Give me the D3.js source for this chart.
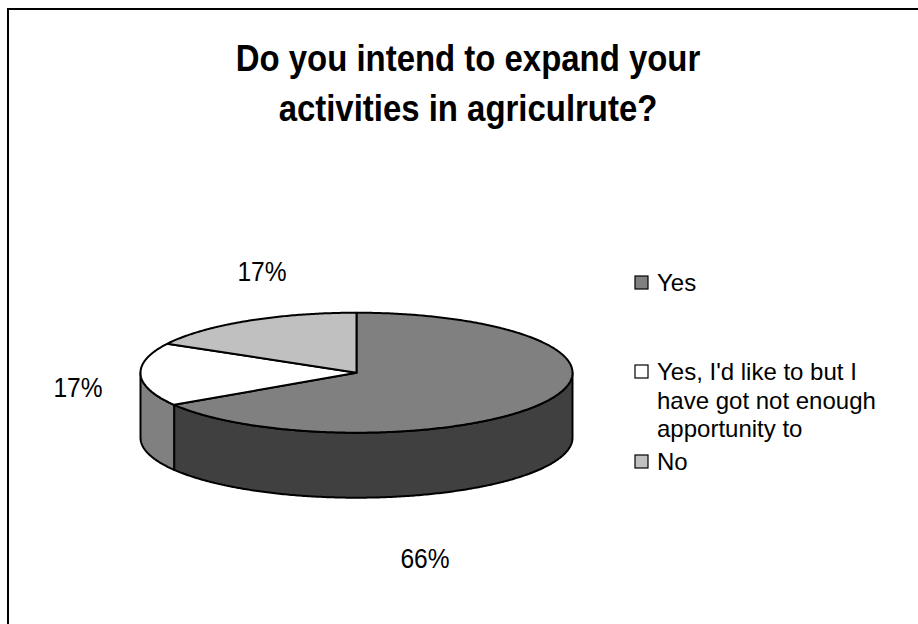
<!DOCTYPE html>
<html>
<head>
<meta charset="utf-8">
<script src="https://cdn.jsdelivr.net/npm/d3@7"></script>
<style>
  html, body { margin: 0; padding: 0; background: #fff; }
  svg { display: block; }
  text { font-family: Arial, "Liberation Sans", sans-serif; fill: #000; }
</style>
</head>
<body>
<svg id="chart" width="918" height="624"></svg>
<script>
// Survey answers
const categories = ["Yes", "Yes, I'd like to but I have got not enough apportunity to", "No"];
const legendLines = [["Yes"], ["Yes, I'd like to but I", "have got not enough", "apportunity to"], ["No"]];
const values = [66, 17, 17];
const labels = ["66%", "17%", "17%"];
const titleLines = ["Do you intend to expand your", "activities in agriculrute?"];

const topColors = ["#808080", "#ffffff", "#c0c0c0"];
const sideColors = ["#404040", "#808080", "#606060"];

const svg = d3.select("#chart");
const W = 918, H = 624;

// chart frame
svg.append("rect").attr("x", 8).attr("y", 9).attr("width", W + 20).attr("height", H + 20)
  .attr("fill", "#fff").attr("stroke", "#000").attr("stroke-width", 2);

function label(x, y, str, size, weight, sx) {
  const g = svg.append("g").attr("transform", `translate(${x},${y}) scale(${sx},1)`);
  g.append("text").attr("text-anchor", "middle").attr("font-size", size)
    .attr("font-weight", weight || "normal").text(str);
  return g;
}

// title
titleLines.forEach((t, i) => label(468, 71 + i * 50, t, 37, "bold", 0.89));

// 3D pie geometry
const cx = 356.5, cy = 372.7, rx = 216, ry = 60, depth = 65;
const pie = d3.pie().sort(null).startAngle(0).endAngle(2 * Math.PI);
const arcs = pie(values);

const pt = (a, dy) => [cx + rx * Math.sin(a), cy - ry * Math.cos(a) + (dy || 0)];
function sample(a0, a1, dy) {
  const n = Math.max(2, Math.ceil(Math.abs(a1 - a0) / 0.01));
  return d3.range(n + 1).map(i => pt(a0 + (a1 - a0) * i / n, dy));
}
const line = d3.line();

// outer walls of the front half
const front0 = Math.PI / 2, front1 = 3 * Math.PI / 2;
arcs.forEach((d, i) => {
  const a0 = Math.max(d.startAngle, front0), a1 = Math.min(d.endAngle, front1);
  if (a1 <= a0) return;
  const pts = sample(a0, a1, 0).concat(sample(a1, a0, depth));
  svg.append("path").attr("d", line(pts) + "Z")
    .attr("fill", sideColors[i]).attr("stroke", "#000").attr("stroke-width", 2)
    .attr("stroke-linejoin", "round");
});

// top faces
arcs.forEach((d, i) => {
  const pts = [[cx, cy]].concat(sample(d.startAngle, d.endAngle, 0));
  svg.append("path").attr("d", line(pts) + "Z")
    .attr("fill", topColors[i]).attr("stroke", "#000").attr("stroke-width", 2)
    .attr("stroke-linejoin", "round");
});

// data labels
const labelPos = [[425, 568], [78, 397], [262, 281]];
arcs.forEach((d, i) => label(labelPos[i][0], labelPos[i][1], labels[i], 27, "normal", 0.91));

// legend
const legX = 635, legRows = [282, 371, 461];
categories.forEach((c, i) => {
  const y = legRows[i];
  svg.append("rect").attr("x", legX).attr("y", y - 6).attr("width", 13).attr("height", 13)
    .attr("fill", topColors[i]).attr("stroke", "#000").attr("stroke-width", 1.2);
  legendLines[i].forEach((ln, j) => {
    svg.append("text").attr("x", 657).attr("y", y + 9 + j * 28.5)
      .attr("font-size", 24).text(ln);
  });
});
</script>
</body>
</html>
